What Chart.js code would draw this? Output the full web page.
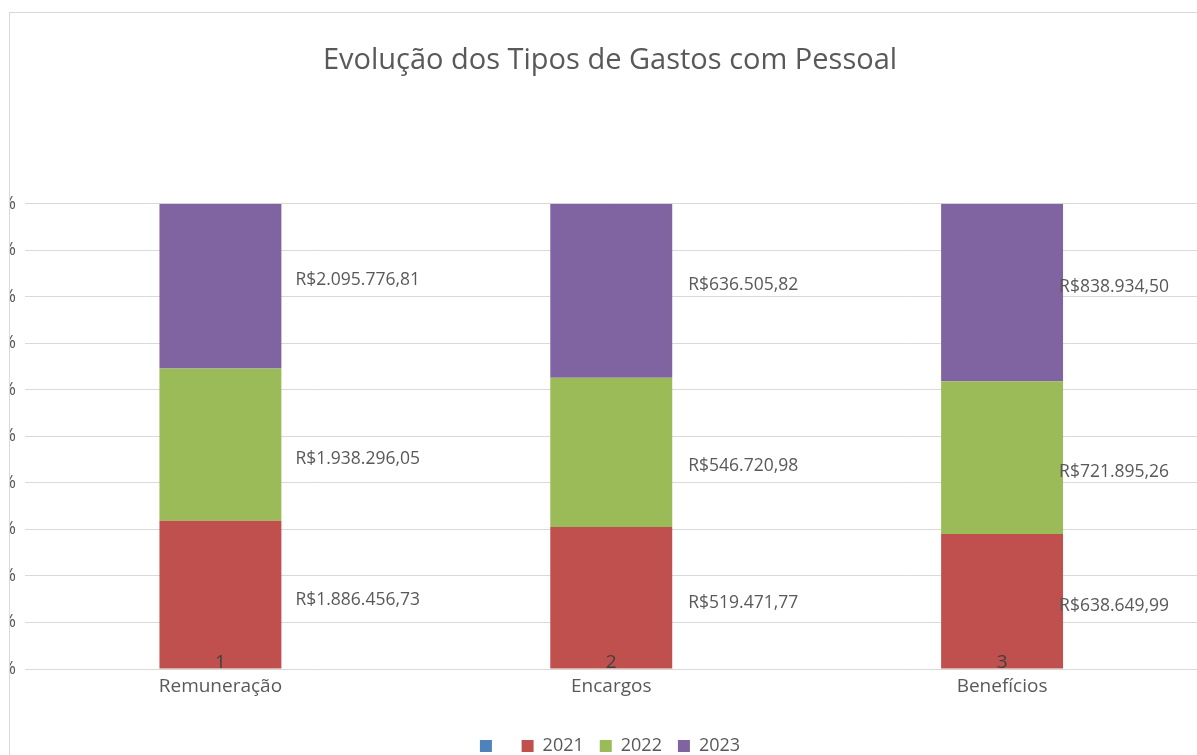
<!DOCTYPE html>
<html lang="pt-BR">
<head>
<meta charset="utf-8">
<title>Evolução dos Tipos de Gastos com Pessoal</title>
<script src="https://cdn.jsdelivr.net/npm/chart.js@4.4.1/dist/chart.umd.min.js"></script>
<style>
  html, body { margin: 0; padding: 0; background: #fff; overflow: hidden; }
  #frame {
    position: absolute; left: 9px; top: 12px;
    width: 1188px; height: 743px;
    border-left: 1px solid #d9d9d9; border-top: 1px solid #d9d9d9;
    overflow: hidden;
  }
  #chart { position: absolute; left: -60px; top: 0; }
</style>
</head>
<body>
<div id="frame">
  <canvas id="chart" width="1320" height="752"></canvas>
</div>
<script>
// Chart data
const categories = ['Remuneração', 'Encargos', 'Benefícios'];
const years = ['2021', '2022', '2023'];
const values2021 = [1886456.73, 519471.77, 638649.99];
const values2022 = [1938296.05, 546720.98, 721895.26];
const values2023 = [2095776.81, 636505.82, 838934.50];

const colors = ['#C0504D', '#9BBB59', '#8064A2'];
const textColor = '#595959';

// label placement next to each bar
const labelDx = [75, 77, 57];
const labelDy = [5, 14, -6];

// 100% stacked: turn raw values into shares of each category total
const raw = [values2021, values2022, values2023];
const totals = categories.map((_, i) => raw.reduce((s, arr) => s + arr[i], 0));
const shares = raw.map(arr => arr.map((v, i) => v / totals[i] * 100));

function brl(v) {
  const [intPart, dec] = v.toFixed(2).split('.');
  return 'R$' + intPart.replace(/\B(?=(\d{3})+(?!\d))/g, '.') + ',' + dec;
}

// Value labels beside each segment, plus the category index on the bar foot
const valueLabels = {
  id: 'valueLabels',
  afterDatasetsDraw(chart) {
    const ctx = chart.ctx;
    ctx.save();
    ctx.font = '17.5px "Open Sans"';
    ctx.fillStyle = textColor;
    ctx.textAlign = 'left';
    ctx.textBaseline = 'middle';
    chart.data.datasets.forEach((ds, di) => {
      if (!ds.rawValues) return;
      const meta = chart.getDatasetMeta(di);
      meta.data.forEach((bar, i) => {
        const y = (bar.y + bar.base) / 2 + labelDy[di - 1];
        ctx.fillText(brl(ds.rawValues[i]), bar.x + labelDx[i], y);
      });
    });

    const xScale = chart.scales.x;
    ctx.font = '19px "Open Sans"';
    ctx.fillStyle = '#404040';
    ctx.textAlign = 'center';
    ctx.textBaseline = 'alphabetic';
    categories.forEach((c, i) => {
      ctx.fillText(String(i + 1), xScale.getPixelForTick(i), chart.chartArea.bottom - 1);
    });
    ctx.restore();
  }
};

const datasets = [{
  label: ' ',
  data: categories.map(() => null),
  backgroundColor: '#4F81BD'
}];
years.forEach((y, k) => {
  datasets.push({
    label: y,
    data: shares[k],
    rawValues: raw[k],
    backgroundColor: colors[k]
  });
});

new Chart(document.getElementById('chart').getContext('2d'), {
  type: 'bar',
  data: {
    labels: categories,
    datasets
  },
  options: {
    responsive: false,
    animation: false,
    datasets: { bar: { barPercentage: 1, categoryPercentage: 0.312 } },
    layout: { padding: 0 },
    plugins: {
      title: {
        display: true,
        text: 'Evolução dos Tipos de Gastos com Pessoal',
        color: textColor,
        font: { family: '"Open Sans"', size: 29, weight: 'normal' },
        padding: { top: 30, bottom: 126 }
      },
      legend: {
        position: 'bottom',
        labels: {
          color: textColor,
          font: { family: '"Open Sans"', size: 18 },
          boxWidth: 12,
          boxHeight: 12,
          padding: 16
        }
      },
      tooltip: { enabled: false }
    },
    scales: {
      x: {
        stacked: true,
        grid: { display: false },
        border: { display: false },
        ticks: {
          color: textColor,
          font: { family: '"Open Sans"', size: 19 },
          padding: -2,
          maxRotation: 0
        },
        afterFit(scale) { scale.height = 52; }
      },
      y: {
        stacked: true,
        min: 0,
        max: 100,
        grid: { color: '#d9d9d9', drawTicks: false },
        border: { display: false },
        ticks: {
          stepSize: 10,
          color: textColor,
          font: { family: '"Open Sans"', size: 17.5 },
          padding: 9,
          callback: v => v + '%'
        },
        afterFit(scale) { scale.width = 75; }
      },
      y2: {
        position: 'right',
        grid: { display: false },
        border: { display: false },
        ticks: { display: false },
        afterFit(scale) { scale.width = 72.5; }
      }
    }
  },
  plugins: [valueLabels]
});
</script>
</body>
</html>
